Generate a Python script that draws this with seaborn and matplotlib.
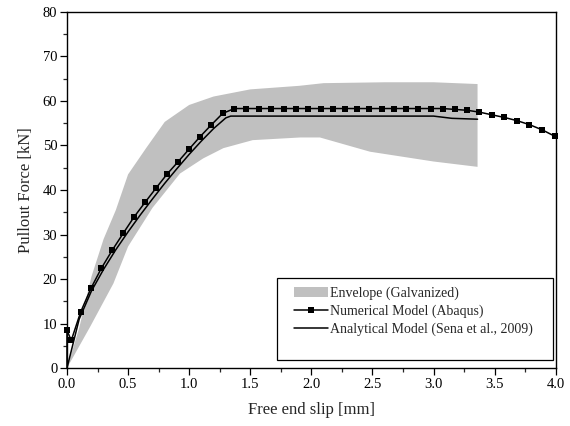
import numpy as np
import pandas as pd
import matplotlib
matplotlib.use('Agg')
import matplotlib.pyplot as plt
import seaborn as sns
from matplotlib.lines import Line2D
from matplotlib.patches import Patch, Rectangle
from matplotlib.ticker import MultipleLocator, FormatStrFormatter

# Numerical model (Abaqus)
num_slip = [0.0, 0.0, 0.035, 0.112, 0.196, 0.281, 0.371, 0.461, 0.548, 0.641, 0.728, 0.82,
            0.911, 1.0, 1.09, 1.18, 1.274, 1.37, 1.468, 1.571, 1.672, 1.772, 1.874, 1.975,
            2.076, 2.174, 2.275, 2.376, 2.474, 2.575, 2.676, 2.774, 2.875, 2.976, 3.074,
            3.175, 3.276, 3.374, 3.475, 3.579, 3.68, 3.783, 3.89, 3.99]
num_force = [0.0, 8.5, 6.2, 12.6, 17.9, 22.4, 26.5, 30.3, 33.9, 37.3, 40.4, 43.6,
             46.4, 49.2, 52.0, 54.6, 57.2, 58.3, 58.3, 58.3, 58.3, 58.3, 58.3, 58.3,
             58.3, 58.3, 58.3, 58.3, 58.3, 58.3, 58.3, 58.3, 58.3, 58.3, 58.3,
             58.1, 57.9, 57.5, 56.9, 56.3, 55.6, 54.7, 53.5, 52.1]

# Analytical model (Sena et al., 2009)
ana_slip = [0.0, 0.1, 0.2, 0.3, 0.4, 0.5, 0.6, 0.7, 0.8, 0.9, 1.0, 1.1, 1.2, 1.3, 1.34,
            2.0, 2.6, 3.0, 3.15, 3.36]
ana_force = [0.0, 11.0, 17.3, 22.2, 26.6, 30.6, 34.4, 38.0, 41.5, 44.8, 48.0, 51.0, 53.8,
             56.2, 56.6, 56.6, 56.6, 56.6, 56.1, 55.9]

# Envelope (Galvanized)
env_up_slip = [0.0, 0.1, 0.2, 0.3, 0.4, 0.5, 0.65, 0.8, 1.0, 1.2, 1.5, 1.9, 2.1, 2.6, 3.0, 3.36]
env_up_force = [0.0, 9.0, 20.5, 29.0, 35.5, 43.5, 49.5, 55.3, 59.1, 61.0, 62.6, 63.4, 64.0,
                64.2, 64.2, 63.8]
env_lo_slip = [0.0, 0.19, 0.38, 0.5, 0.7, 0.925, 1.115, 1.28, 1.52, 1.91, 2.07, 2.48, 3.0, 3.36]
env_lo_force = [0.0, 9.3, 19.0, 27.3, 36.0, 43.7, 47.1, 49.4, 51.2, 51.8, 51.8, 48.6, 46.4, 45.2]

sns.set_theme(style='ticks')
plt.rcParams['font.family'] = ['Liberation Serif', 'DejaVu Serif']

fig, ax = plt.subplots(figsize=(5.7, 4.26), dpi=100)
fig.subplots_adjust(left=0.1175, right=0.975, top=0.972, bottom=0.136)

# envelope polygon: upper edge forward, lower edge back
poly_x = env_up_slip + env_lo_slip[::-1]
poly_y = env_up_force + env_lo_force[::-1]
ax.fill(poly_x, poly_y, color='#c0c0c0', lw=0, zorder=1)

df_ana = pd.DataFrame({'slip': ana_slip, 'force': ana_force})
sns.lineplot(data=df_ana, x='slip', y='force', ax=ax, color='black', lw=1.1,
             sort=False, estimator=None, zorder=3)

df_num = pd.DataFrame({'slip': num_slip, 'force': num_force})
sns.lineplot(data=df_num, x='slip', y='force', ax=ax, color='black', lw=1.1,
             sort=False, estimator=None, marker='s', markersize=3.8, markeredgewidth=0,
             markevery=list(range(1, len(num_slip))), zorder=4, clip_on=False)

ax.set_xlim(0, 4.0)
ax.set_ylim(0, 80)
ax.xaxis.set_major_locator(MultipleLocator(0.5))
ax.xaxis.set_minor_locator(MultipleLocator(0.25))
ax.xaxis.set_major_formatter(FormatStrFormatter('%.1f'))
ax.yaxis.set_major_locator(MultipleLocator(10))
ax.yaxis.set_minor_locator(MultipleLocator(5))
ax.tick_params(which='major', direction='out', length=5, width=0.9, labelsize=10.5,
               colors='black', pad=2)
ax.tick_params(which='minor', direction='out', length=3, width=0.9)
for s in ax.spines.values():
    s.set_linewidth(1.0)
    s.set_color('black')

ax.set_xlabel('Free end slip [mm]', fontsize=12, labelpad=8)
ax.set_ylabel('Pullout Force [kN]', fontsize=12, labelpad=6)

# legend frame drawn separately to get the wide side padding
ax.add_patch(Rectangle((0.429, 0.022), 0.565, 0.231, transform=ax.transAxes,
                       facecolor='white', edgecolor='black', lw=0.9, zorder=5))
handles = [Patch(facecolor='#c0c0c0', edgecolor='none'),
           Line2D([], [], color='black', lw=1.1, marker='s', markersize=3.8, markeredgewidth=0),
           Line2D([], [], color='black', lw=1.1)]
labels = ['Envelope (Galvanized)', 'Numerical Model (Abaqus)',
          'Analytical Model (Sena et al., 2009)']
leg = ax.legend(handles, labels, loc='upper left', bbox_to_anchor=(0.465, 0.228),
                borderaxespad=0, borderpad=0, fontsize=10, frameon=False,
                handlelength=2.4, handletextpad=0.2, labelspacing=0.3)
leg.set_zorder(6)

fig.savefig('out.png', dpi=100)
